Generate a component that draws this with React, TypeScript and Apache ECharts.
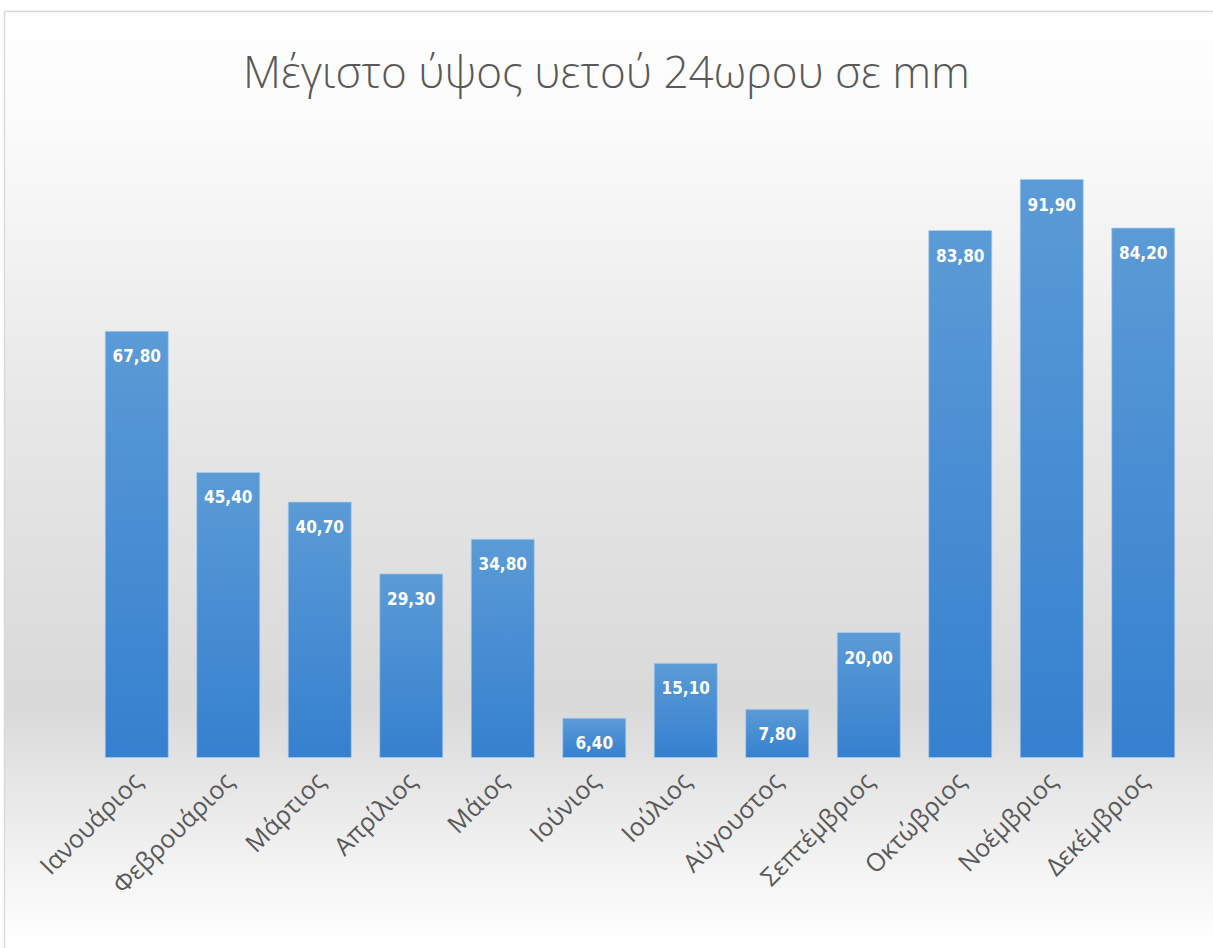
import React, { useEffect, useRef } from "react";
import * as echarts from "echarts";

const TITLE = "Μέγιστο ύψος υετού 24ωρου σε mm";
const months = [
  "Ιανουάριος",
  "Φεβρουάριος",
  "Μάρτιος",
  "Απρίλιος",
  "Μάιος",
  "Ιούνιος",
  "Ιούλιος",
  "Αύγουστος",
  "Σεπτέμβριος",
  "Οκτώβριος",
  "Νοέμβριος",
  "Δεκέμβριος",
];
const rainMax = [67.8, 45.4, 40.7, 29.3, 34.8, 6.4, 15.1, 7.8, 20.0, 83.8, 91.9, 84.2];

export default function App() {
  const ref = useRef<HTMLDivElement>(null);
  useEffect(() => {
    if (!ref.current) return;
    const chart = echarts.init(ref.current, null, { renderer: "svg" });
    chart.setOption({
      animation: false,
      backgroundColor: "#ffffff",
      graphic: [
        {
          type: "rect",
          z: -10,
          silent: true,
          shape: { x: 4.5, y: 11.5, width: 1230, height: 960 },
          style: {
            stroke: "#d9d9d9",
            lineWidth: 1.5,
            fill: {
              type: "linear",
              x: 0,
              y: 0,
              x2: 0,
              y2: 1,
              colorStops: [
                { offset: 0, color: "#ffffff" },
                { offset: 0.12, color: "#fbfbfb" },
                { offset: 0.4, color: "#e8e8e8" },
                { offset: 0.72, color: "#d9d9d9" },
                { offset: 0.85, color: "#ededed" },
                { offset: 0.97, color: "#ffffff" },
                { offset: 1, color: "#ffffff" },
              ],
            },
          },
        },
      ],
      title: {
        text: TITLE,
        left: "center",
        top: 44,
        textStyle: {
          fontFamily: "Open Sans",
          fontWeight: 300,
          fontSize: 44,
          color: "#595959",
        },
      },
      grid: { left: 91, right: 24, top: 128, bottom: 190, containLabel: false },
      xAxis: {
        type: "category",
        data: months,
        axisLine: { show: false },
        axisTick: { show: false },
        axisLabel: {
          rotate: 45,
          margin: 18,
          interval: 0,
          fontFamily: "Open Sans",
          fontSize: 25,
          color: "#595959",
        },
      },
      yAxis: {
        type: "value",
        min: 0,
        max: 100,
        show: false,
        splitLine: { show: false },
      },
      series: [
        {
          type: "bar",
          data: rainMax,
          barCategoryGap: "30%",
          itemStyle: {
            color: {
              type: "linear",
              x: 0,
              y: 0,
              x2: 0,
              y2: 1,
              colorStops: [
                { offset: 0, color: "#5b9bd6" },
                { offset: 1, color: "#3580cf" },
              ],
            },
            borderColor: "rgba(170,205,240,0.7)",
            borderWidth: 1,
          },
          label: {
            show: true,
            position: "insideTop",
            distance: 17,
            fontFamily: "DejaVu Sans Condensed",
            fontWeight: "bold",
            fontSize: 17,
            color: "#ffffff",
            formatter: (p: any) => p.value.toFixed(2).replace(".", ","),
          },
        },
      ],
    });
    return () => chart.dispose();
  }, []);
  return (
    <div
      ref={ref}
      style={{ position: "fixed", left: 0, top: 0, width: 1213, height: 948 }}
    />
  );
}
